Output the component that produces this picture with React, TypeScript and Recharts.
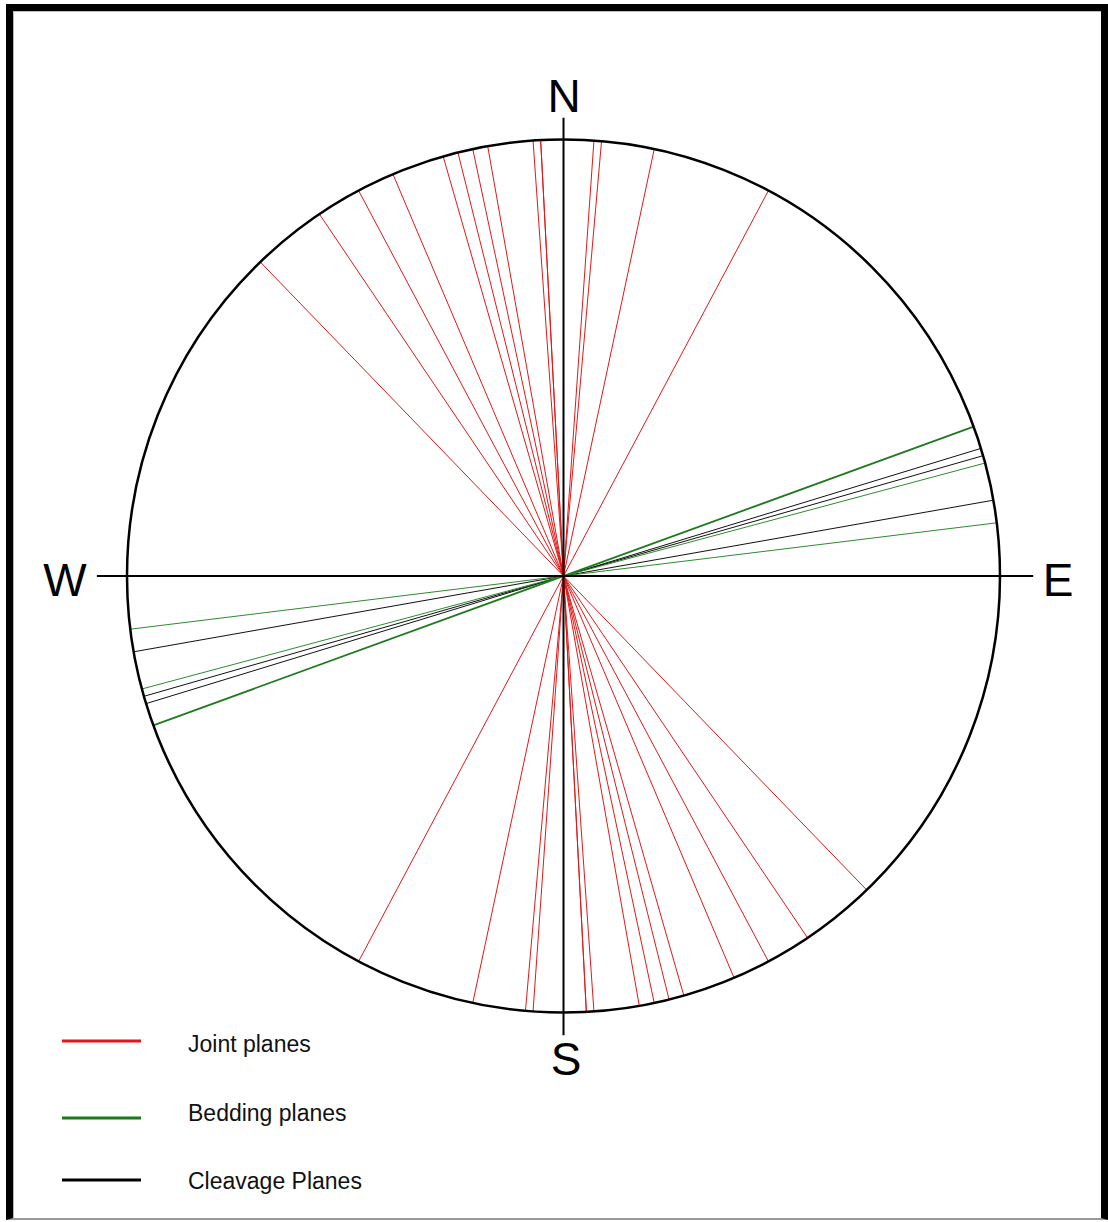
import { ComposedChart, Line, XAxis, YAxis, ReferenceDot } from 'recharts'

// strikes (degrees clockwise from north)
const JOINT_STRIKES = [316, 326, 332, 337, 344, 346, 348, 350, 356, 357, 357, 0, 4, 5, 12, 28]
const BEDDING_STRIKES = [70, 75, 83]
const CLEAVAGE_STRIKES = [73, 74, 80]
const COMPASS_LABELS = ['N', 'E', 'S', 'W']
const LEGEND_LABELS = ['Joint planes', 'Bedding planes', 'Cleavage Planes']

const W = 1108
const H = 1222
const CX = 563.5
const CY = 576
const R = 436.5
const D = 1.1

const JOINT_COLOR = '#e01818'
const BEDDING_COLOR = '#2e8b2e'
const CLEAVAGE_COLOR = '#111111'
const LEGEND_COLORS = ['#e8141c', '#1a7a1a', '#000000']

// a plane through the centre is a diameter of the net
const diameter = (strike: number) => {
  const a = (strike * Math.PI) / 180
  return [
    { x: Math.sin(a), y: Math.cos(a) },
    { x: -Math.sin(a), y: -Math.cos(a) },
  ]
}

const nsAxis = [{ x: 0, y: 1.05 }, { x: 0, y: -1.052 }]
const ewAxis = [{ x: -1.069, y: 0 }, { x: 1.076, y: 0 }]

const compassPos: Record<string, { x: number; y: number }> = {
  N: { x: 564, y: 112 },
  E: { x: 1058, y: 596 },
  S: { x: 566, y: 1075 },
  W: { x: 65, y: 596 },
}

export default function App() {
  const margin = {
    left: CX - D * R,
    right: W - (CX + D * R),
    top: CY - D * R,
    bottom: H - (CY + D * R),
  }

  return (
    <div style={{ position: 'relative', width: W, height: H, background: '#fff', fontFamily: '"Liberation Sans", Arial, sans-serif' }}>
      <style>{'body{margin:0}'}</style>
      <div
        style={{
          position: 'absolute',
          left: 6,
          top: 4,
          width: W - 6,
          height: H - 6,
          boxSizing: 'border-box',
          borderTop: '7px solid #000',
          borderLeft: '7px solid #000',
          borderRight: '7px solid #000',
          borderBottom: '2px solid #999',
          boxShadow: 'inset 1px 1px 0 #bbb',
        }}
      />
      <div style={{ position: 'absolute', left: 0, top: 0 }}>
        <ComposedChart width={W} height={H} margin={margin}>
          <XAxis type="number" dataKey="x" domain={[-D, D]} hide allowDataOverflow />
          <YAxis type="number" dataKey="y" domain={[-D, D]} hide allowDataOverflow />
          {JOINT_STRIKES.map((s, i) => (
            <Line key={'j' + i} data={diameter(s)} dataKey="y" stroke={JOINT_COLOR} strokeWidth={1} dot={false} activeDot={false} isAnimationActive={false} />
          ))}
          {CLEAVAGE_STRIKES.map((s, i) => (
            <Line key={'c' + i} data={diameter(s)} dataKey="y" stroke={CLEAVAGE_COLOR} strokeWidth={1} dot={false} activeDot={false} isAnimationActive={false} />
          ))}
          {BEDDING_STRIKES.map((s, i) => (
            <Line key={'b' + i} data={diameter(s)} dataKey="y" stroke={i === 0 ? '#1f7a1f' : BEDDING_COLOR} strokeWidth={i === 0 ? 1.8 : 1} dot={false} activeDot={false} isAnimationActive={false} />
          ))}
          <Line data={nsAxis} dataKey="y" stroke="#000" strokeWidth={2} dot={false} activeDot={false} isAnimationActive={false} />
          <Line data={ewAxis} dataKey="y" stroke="#000" strokeWidth={2} dot={false} activeDot={false} isAnimationActive={false} />
          <ReferenceDot x={0} y={0} r={R} fill="none" stroke="#000" strokeWidth={2.5} ifOverflow="visible" />
        </ComposedChart>
      </div>
      <svg width={W} height={H} style={{ position: 'absolute', left: 0, top: 0, pointerEvents: 'none' }}>
        {COMPASS_LABELS.map((c) => (
          <text key={c} x={compassPos[c].x} y={compassPos[c].y} textAnchor="middle" fontSize={46} fill="#000">
            {c}
          </text>
        ))}
        {LEGEND_LABELS.map((label, i) => {
          const lineY = [1041, 1118, 1180][i]
          const textY = [1051.5, 1121, 1189][i]
          return (
            <g key={label}>
              <line x1={62} x2={141} y1={lineY} y2={lineY} stroke={LEGEND_COLORS[i]} strokeWidth={3} />
              <text x={188} y={textY} fontSize={23} fill="#111">
                {label}
              </text>
            </g>
          )
        })}
      </svg>
    </div>
  )
}
